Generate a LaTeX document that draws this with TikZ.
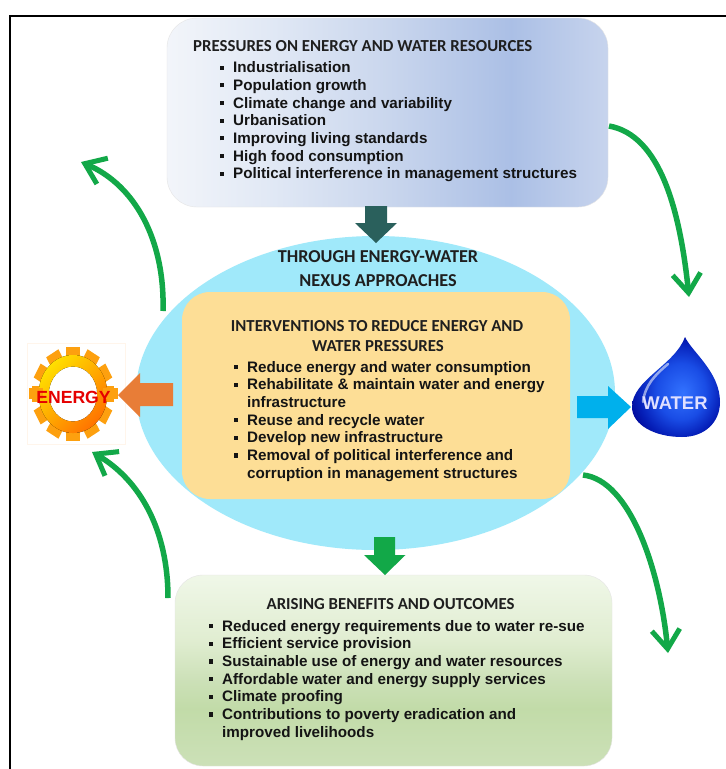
\documentclass[tikz,border=0pt]{standalone}
\usepackage{fontspec}
\setmainfont{Liberation Sans}
\newfontfamily\titlefont{Carlito}
\usetikzlibrary{arrows.meta,shapes.geometric,calc}
\definecolor{arrgreen}{RGB}{18,168,72}
\definecolor{ellblue}{RGB}{160,233,250}
\definecolor{ybox}{RGB}{253,222,150}
\definecolor{dkteal}{RGB}{42,96,92}
\definecolor{orarrow}{RGB}{232,125,55}
\definecolor{blarrow}{RGB}{0,176,236}
\definecolor{gearor}{RGB}{253,160,15}
\pgfdeclarehorizontalshading{topshade}{100bp}{rgb(0bp)=(0.95,0.96,0.98);rgb(25bp)=(0.95,0.96,0.98);rgb(37bp)=(0.88,0.91,0.96);rgb(50bp)=(0.79,0.84,0.93);rgb(64bp)=(0.67,0.75,0.90);rgb(75bp)=(0.78,0.83,0.93);rgb(100bp)=(0.78,0.83,0.93)}
\pgfdeclareverticalshading{botshade}{100bp}{rgb(0bp)=(0.80,0.88,0.72);rgb(25bp)=(0.80,0.88,0.72);rgb(40bp)=(0.76,0.86,0.66);rgb(47.5bp)=(0.80,0.88,0.72);rgb(58bp)=(0.88,0.93,0.82);rgb(75bp)=(0.94,0.97,0.91);rgb(100bp)=(0.94,0.97,0.91)}
\pgfdeclareradialshading{dropshade}{\pgfpoint{4bp}{-3bp}}{rgb(0bp)=(0.2,0.45,1);rgb(14bp)=(0.1,0.3,0.9);rgb(24bp)=(0.02,0.12,0.72);rgb(32bp)=(0.0,0.0,0.55);rgb(50bp)=(0.0,0.0,0.55)}
\tikzset{
 cycle/.style={draw=arrgreen,line width=5.5pt,-{Straight Barb[length=19pt,width=28pt,line width=5pt]}},
 bul/.style={font=\bfseries\fontsize{15.2}{17.67}\selectfont,text=black!92,align=left,anchor=north west,inner sep=0pt},
 ttl/.style={font=\titlefont\bfseries\fontsize{16.8}{17}\selectfont,text=black!88,align=center,inner sep=0pt},
}
\newcommand{\bitem}{\makebox[15pt][l]{\hspace*{1.5pt}\raisebox{3pt}{\rule{4.2pt}{4.2pt}}}}
\begin{document}
\begin{tikzpicture}[x=1pt,y=-1pt]
\useasboundingbox (0,0) rectangle (726,769);
\fill[white] (0,0) rectangle (726,769);
% frame
\coordinate (fbl) at (9.5,769);
\coordinate (ftl) at (9.5,15.5);
\coordinate (ftr) at (726,15.5);
\draw[black,line width=2pt] (fbl) -- (ftl) -- (ftr);
% top box
\node[draw=black!10,rounded corners=30pt,minimum width=441pt,minimum height=189pt,shading=topshade,inner sep=0pt] (top) at (387.5,112.5) {};
\node[ttl,anchor=west] (tt) at (193,46.5) {PRESSURES ON ENERGY AND WATER RESOURCES};
\node[bul] (tl) at (218,61.5) {\bitem Industrialisation\\\bitem Population growth\\\bitem Climate change and variability\\\bitem Urbanisation\\\bitem Improving living standards\\\bitem High food consumption\\\bitem Political interference in management structures};
% ellipse
\node[ellipse,fill=ellblue,minimum width=479pt,minimum height=314pt,inner sep=0pt] (ell) at (375.5,393) {};
\node[ttl,font=\titlefont\bfseries\fontsize{18.2}{19}\selectfont] (nex) at (378,257) {THROUGH ENERGY-WATER};
\node[ttl,font=\titlefont\bfseries\fontsize{18.2}{19}\selectfont] (nex2) at (378,280.5) {NEXUS APPROACHES};
% yellow box
\node[fill=ybox,rounded corners=28pt,minimum width=388pt,minimum height=207pt,inner sep=0pt] (mid) at (376,395.5) {};
\node[ttl,anchor=center] (mt) at (377,326) {INTERVENTIONS TO REDUCE ENERGY AND};
\node[ttl,anchor=center] (mt2) at (378,346) {WATER PRESSURES};
\node[bul] (ml) at (232,361) {\bitem Reduce energy and water consumption\\\bitem Rehabilitate \& maintain water and energy\\\hspace*{15pt}infrastructure\\\bitem Reuse and recycle water\\\bitem Develop new infrastructure\\\bitem Removal of political interference and\\\hspace*{15pt}corruption in management structures};
% bottom box
\node[draw=black!10,rounded corners=28pt,minimum width=437pt,minimum height=191pt,inner sep=0pt,shading=botshade] (bot) at (393.5,670.5) {};
\node[ttl,anchor=center] (bt) at (390.5,604.5) {ARISING BENEFITS AND OUTCOMES};
\node[bul] (bl) at (207,620) {\bitem Reduced energy requirements due to water re-sue\\\bitem Efficient service provision\\\bitem Sustainable use of energy and water resources\\\bitem Affordable water and energy supply services\\\bitem Climate proofing\\\bitem Contributions to poverty eradication and\\\hspace*{15pt}improved livelihoods};
% block arrows
\fill[dkteal] (365,206) -- (387,206) -- (387,223) -- (397,223) -- (376,243) -- (355,223) -- (365,223) -- cycle;
\fill[arrgreen] (374,537) -- (395,537) -- (395,555) -- (405.5,555) -- (385,575) -- (364,555) -- (374,555) -- cycle;
% gear
\begin{scope}[shift={(73,394)}]
 \draw[orange!8] (-46,-51) rectangle (52,50);
 \begin{scope}[xscale=.88]
 \foreach \a in {0,30,...,330}{
  \fill[rotate=\a,gearor] (-8,-47) rectangle (8,-34);
 }
 \fill[even odd rule,left color=yellow!75!orange,right color=orange!90!red,shading angle=45] (0,0) circle (39) (0,0) circle (27.5);
 \end{scope}
 \fill[gearor] (-44,-6) rectangle (-30,5);
 \fill[gearor] (30,-6) rectangle (45,5);
 \node[font=\bfseries\fontsize{17.6}{18}\selectfont,text=red!90!black,inner sep=0pt] (en) at (0.5,3) {ENERGY};
\end{scope}
\fill[orarrow] (173,383) -- (173,406) -- (140,406) -- (140,417) -- (118,395) -- (140,373) -- (140,383) -- cycle;
\fill[blarrow] (577,396) -- (608,396) -- (608,386) -- (631,407) -- (608,429) -- (608,418) -- (577,418) -- cycle;
% drop
\path[shading=dropshade] (685,337) .. controls (692,352) and (720,372) .. (720,402) .. controls (720,422) and (705,437) .. (682,437) .. controls (655,437) and (632,425) .. (632,407) .. controls (632,380) and (675,365) .. (685,337) -- cycle;
\draw[white,opacity=.55,line width=2.5pt,line cap=round] (643,402) .. controls (645,385) and (655,375) .. (668,364);
\node[font=\bfseries\fontsize{18.4}{18}\selectfont,text=white!88!blue,inner sep=0pt] (wa) at (675,403) {WATER};
% green cycle arrows
\coordinate (c1s) at (163,311); \coordinate (c1e) at (81,162);
\coordinate (c2s) at (609,126); \coordinate (c2e) at (689,297);
\coordinate (c3s) at (583,475); \coordinate (c3e) at (668,653);
\coordinate (c4s) at (168,598); \coordinate (c4e) at (92,452);
\draw[cycle] (c1s) .. controls (165,240) and (135,185) .. (c1e);
\draw[cycle] (c2s) .. controls (660,135) and (680,210) .. (c2e);
\draw[cycle] (c3s) .. controls (630,480) and (660,570) .. (c3e);
\draw[cycle] (c4s) .. controls (168,530) and (140,480) .. (c4e);
\end{tikzpicture}
\end{document}
